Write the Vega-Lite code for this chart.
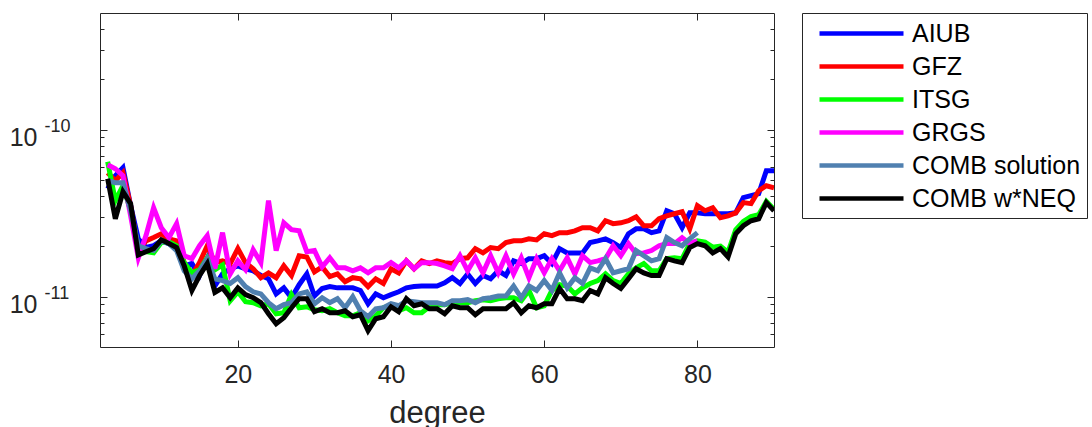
{
  "$schema": "https://vega.github.io/schema/vega-lite/v6.json",
  "width": 674,
  "height": 334,
  "autosize": {"type": "none"},
  "padding": {"left": 100, "top": 13, "right": 318, "bottom": 80},
  "background": "white",
  "config": {
    "view": {"stroke": "#262626", "strokeWidth": 1},
    "font": "Liberation Sans",
    "axis": {"domain": false, "grid": false, "labelColor": "#262626", "tickColor": "#262626", "titleColor": "#262626", "labelFont": "Liberation Sans", "titleFont": "Liberation Sans", "tickWidth": 1}
  },
  "data": {"values": [
    {"d":3,"AIUB":4.43e-11,"GFZ":5.53e-11,"ITSG":6.43e-11,"GRGS":6.17e-11,"COMB solution":4.95e-11,"COMB w*NEQ":5.09e-11},
    {"d":4,"AIUB":5.30e-11,"GFZ":4.95e-11,"ITSG":3.76e-11,"GRGS":5.84e-11,"COMB solution":4.82e-11,"COMB w*NEQ":2.93e-11},
    {"d":5,"AIUB":5.92e-11,"GFZ":5.53e-11,"ITSG":4.62e-11,"GRGS":5.30e-11,"COMB solution":4.82e-11,"COMB w*NEQ":4.25e-11},
    {"d":6,"AIUB":3.51e-11,"GFZ":3.51e-11,"ITSG":3.27e-11,"GRGS":3.05e-11,"COMB solution":3.27e-11,"COMB w*NEQ":3.61e-11},
    {"d":7,"AIUB":2.22e-11,"GFZ":1.89e-11,"ITSG":1.97e-11,"GRGS":1.71e-11,"COMB solution":2.02e-11,"COMB w*NEQ":1.78e-11},
    {"d":8,"AIUB":1.97e-11,"GFZ":2.16e-11,"ITSG":1.86e-11,"GRGS":2.32e-11,"COMB solution":1.94e-11,"COMB w*NEQ":1.86e-11},
    {"d":9,"AIUB":2.02e-11,"GFZ":2.26e-11,"ITSG":1.83e-11,"GRGS":3.41e-11,"COMB solution":1.89e-11,"COMB w*NEQ":1.94e-11},
    {"d":10,"AIUB":2.16e-11,"GFZ":2.38e-11,"ITSG":2.11e-11,"GRGS":2.59e-11,"COMB solution":2.16e-11,"COMB w*NEQ":2.19e-11},
    {"d":11,"AIUB":2.08e-11,"GFZ":2.22e-11,"ITSG":2.13e-11,"GRGS":2.26e-11,"COMB solution":2.08e-11,"COMB w*NEQ":2.08e-11},
    {"d":12,"AIUB":1.94e-11,"GFZ":2.16e-11,"ITSG":2.02e-11,"GRGS":2.74e-11,"COMB solution":1.89e-11,"COMB w*NEQ":1.97e-11},
    {"d":13,"AIUB":1.53e-11,"GFZ":1.60e-11,"ITSG":1.60e-11,"GRGS":1.76e-11,"COMB solution":1.43e-11,"COMB w*NEQ":1.53e-11},
    {"d":14,"AIUB":1.58e-11,"GFZ":1.34e-11,"ITSG":1.39e-11,"GRGS":1.69e-11,"COMB solution":1.28e-11,"COMB w*NEQ":1.09e-11},
    {"d":15,"AIUB":1.34e-11,"GFZ":1.60e-11,"ITSG":1.45e-11,"GRGS":2.02e-11,"COMB solution":1.43e-11,"COMB w*NEQ":1.34e-11},
    {"d":16,"AIUB":1.69e-11,"GFZ":2.02e-11,"ITSG":1.71e-11,"GRGS":2.32e-11,"COMB solution":1.69e-11,"COMB w*NEQ":1.58e-11},
    {"d":17,"AIUB":1.16e-11,"GFZ":1.60e-11,"ITSG":1.45e-11,"GRGS":1.47e-11,"COMB solution":1.28e-11,"COMB w*NEQ":1.06e-11},
    {"d":18,"AIUB":1.37e-11,"GFZ":1.64e-11,"ITSG":1.55e-11,"GRGS":2.42e-11,"COMB solution":1.25e-11,"COMB w*NEQ":1.13e-11},
    {"d":19,"AIUB":1.47e-11,"GFZ":1.58e-11,"ITSG":0.946e-11,"GRGS":1.37e-11,"COMB solution":1.20e-11,"COMB w*NEQ":0.986e-11},
    {"d":20,"AIUB":1.53e-11,"GFZ":1.94e-11,"ITSG":1.07e-11,"GRGS":1.64e-11,"COMB solution":1.30e-11,"COMB w*NEQ":1.13e-11},
    {"d":21,"AIUB":1.47e-11,"GFZ":1.60e-11,"ITSG":0.933e-11,"GRGS":1.45e-11,"COMB solution":1.15e-11,"COMB w*NEQ":1.03e-11},
    {"d":22,"AIUB":1.43e-11,"GFZ":1.47e-11,"ITSG":0.921e-11,"GRGS":1.91e-11,"COMB solution":1.07e-11,"COMB w*NEQ":0.986e-11},
    {"d":23,"AIUB":1.34e-11,"GFZ":1.30e-11,"ITSG":0.883e-11,"GRGS":1.60e-11,"COMB solution":1.04e-11,"COMB w*NEQ":0.921e-11},
    {"d":24,"AIUB":1.28e-11,"GFZ":1.39e-11,"ITSG":0.908e-11,"GRGS":3.76e-11,"COMB solution":0.921e-11,"COMB w*NEQ":0.791e-11},
    {"d":25,"AIUB":1.04e-11,"GFZ":1.30e-11,"ITSG":0.791e-11,"GRGS":1.89e-11,"COMB solution":0.847e-11,"COMB w*NEQ":0.689e-11},
    {"d":26,"AIUB":1.13e-11,"GFZ":1.53e-11,"ITSG":0.802e-11,"GRGS":2.77e-11,"COMB solution":0.896e-11,"COMB w*NEQ":0.748e-11},
    {"d":27,"AIUB":0.986e-11,"GFZ":1.34e-11,"ITSG":1.03e-11,"GRGS":2.52e-11,"COMB solution":0.921e-11,"COMB w*NEQ":0.859e-11},
    {"d":28,"AIUB":1.18e-11,"GFZ":1.76e-11,"ITSG":0.859e-11,"GRGS":2.48e-11,"COMB solution":1.04e-11,"COMB w*NEQ":0.973e-11},
    {"d":29,"AIUB":1.37e-11,"GFZ":1.73e-11,"ITSG":0.871e-11,"GRGS":1.86e-11,"COMB solution":1.07e-11,"COMB w*NEQ":0.973e-11},
    {"d":30,"AIUB":1.01e-11,"GFZ":1.41e-11,"ITSG":0.835e-11,"GRGS":1.89e-11,"COMB solution":0.908e-11,"COMB w*NEQ":0.813e-11},
    {"d":31,"AIUB":1.12e-11,"GFZ":1.51e-11,"ITSG":0.824e-11,"GRGS":1.51e-11,"COMB solution":0.986e-11,"COMB w*NEQ":0.847e-11},
    {"d":32,"AIUB":1.15e-11,"GFZ":1.32e-11,"ITSG":0.847e-11,"GRGS":1.71e-11,"COMB solution":0.921e-11,"COMB w*NEQ":0.802e-11},
    {"d":33,"AIUB":1.13e-11,"GFZ":1.37e-11,"ITSG":0.802e-11,"GRGS":1.49e-11,"COMB solution":0.973e-11,"COMB w*NEQ":0.802e-11},
    {"d":34,"AIUB":1.13e-11,"GFZ":1.23e-11,"ITSG":0.769e-11,"GRGS":1.49e-11,"COMB solution":0.859e-11,"COMB w*NEQ":0.824e-11},
    {"d":35,"AIUB":1.13e-11,"GFZ":1.30e-11,"ITSG":0.769e-11,"GRGS":1.43e-11,"COMB solution":1.00e-11,"COMB w*NEQ":0.759e-11},
    {"d":36,"AIUB":1.09e-11,"GFZ":1.28e-11,"ITSG":0.802e-11,"GRGS":1.49e-11,"COMB solution":0.824e-11,"COMB w*NEQ":0.780e-11},
    {"d":37,"AIUB":0.908e-11,"GFZ":1.15e-11,"ITSG":0.718e-11,"GRGS":1.39e-11,"COMB solution":0.759e-11,"COMB w*NEQ":0.626e-11},
    {"d":38,"AIUB":1.04e-11,"GFZ":1.28e-11,"ITSG":0.769e-11,"GRGS":1.49e-11,"COMB solution":0.847e-11,"COMB w*NEQ":0.738e-11},
    {"d":39,"AIUB":0.986e-11,"GFZ":1.20e-11,"ITSG":0.859e-11,"GRGS":1.49e-11,"COMB solution":0.859e-11,"COMB w*NEQ":0.759e-11},
    {"d":40,"AIUB":1.03e-11,"GFZ":1.47e-11,"ITSG":0.883e-11,"GRGS":1.60e-11,"COMB solution":0.908e-11,"COMB w*NEQ":0.871e-11},
    {"d":41,"AIUB":1.07e-11,"GFZ":1.39e-11,"ITSG":0.824e-11,"GRGS":1.49e-11,"COMB solution":0.883e-11,"COMB w*NEQ":0.813e-11},
    {"d":42,"AIUB":1.13e-11,"GFZ":1.64e-11,"ITSG":0.859e-11,"GRGS":1.64e-11,"COMB solution":0.946e-11,"COMB w*NEQ":0.973e-11},
    {"d":43,"AIUB":1.15e-11,"GFZ":1.47e-11,"ITSG":0.802e-11,"GRGS":1.47e-11,"COMB solution":0.933e-11,"COMB w*NEQ":0.883e-11},
    {"d":44,"AIUB":1.16e-11,"GFZ":1.64e-11,"ITSG":0.802e-11,"GRGS":1.60e-11,"COMB solution":0.921e-11,"COMB w*NEQ":0.908e-11},
    {"d":45,"AIUB":1.16e-11,"GFZ":1.58e-11,"ITSG":0.871e-11,"GRGS":1.60e-11,"COMB solution":0.921e-11,"COMB w*NEQ":0.847e-11},
    {"d":46,"AIUB":1.16e-11,"GFZ":1.64e-11,"ITSG":0.896e-11,"GRGS":1.58e-11,"COMB solution":0.921e-11,"COMB w*NEQ":0.847e-11},
    {"d":47,"AIUB":1.21e-11,"GFZ":1.60e-11,"ITSG":0.896e-11,"GRGS":1.53e-11,"COMB solution":0.896e-11,"COMB w*NEQ":0.791e-11},
    {"d":48,"AIUB":1.30e-11,"GFZ":1.58e-11,"ITSG":0.921e-11,"GRGS":1.47e-11,"COMB solution":0.946e-11,"COMB w*NEQ":0.883e-11},
    {"d":49,"AIUB":1.20e-11,"GFZ":1.69e-11,"ITSG":0.921e-11,"GRGS":1.76e-11,"COMB solution":0.946e-11,"COMB w*NEQ":0.859e-11},
    {"d":50,"AIUB":1.37e-11,"GFZ":1.71e-11,"ITSG":0.921e-11,"GRGS":1.43e-11,"COMB solution":0.96e-11,"COMB w*NEQ":0.859e-11},
    {"d":51,"AIUB":1.20e-11,"GFZ":1.94e-11,"ITSG":0.946e-11,"GRGS":1.71e-11,"COMB solution":0.921e-11,"COMB w*NEQ":0.780e-11},
    {"d":52,"AIUB":1.34e-11,"GFZ":1.83e-11,"ITSG":0.96e-11,"GRGS":1.39e-11,"COMB solution":0.973e-11,"COMB w*NEQ":0.847e-11},
    {"d":53,"AIUB":1.28e-11,"GFZ":1.97e-11,"ITSG":0.946e-11,"GRGS":1.76e-11,"COMB solution":0.986e-11,"COMB w*NEQ":0.847e-11},
    {"d":54,"AIUB":1.43e-11,"GFZ":1.94e-11,"ITSG":0.973e-11,"GRGS":1.39e-11,"COMB solution":1.01e-11,"COMB w*NEQ":0.847e-11},
    {"d":55,"AIUB":1.34e-11,"GFZ":2.11e-11,"ITSG":0.986e-11,"GRGS":1.76e-11,"COMB solution":1.01e-11,"COMB w*NEQ":0.847e-11},
    {"d":56,"AIUB":1.64e-11,"GFZ":2.16e-11,"ITSG":0.986e-11,"GRGS":1.37e-11,"COMB solution":1.16e-11,"COMB w*NEQ":0.921e-11},
    {"d":57,"AIUB":1.58e-11,"GFZ":2.16e-11,"ITSG":0.946e-11,"GRGS":1.71e-11,"COMB solution":0.986e-11,"COMB w*NEQ":0.802e-11},
    {"d":58,"AIUB":1.69e-11,"GFZ":2.22e-11,"ITSG":1.09e-11,"GRGS":1.30e-11,"COMB solution":1.16e-11,"COMB w*NEQ":0.883e-11},
    {"d":59,"AIUB":1.69e-11,"GFZ":2.19e-11,"ITSG":0.859e-11,"GRGS":1.69e-11,"COMB solution":1.09e-11,"COMB w*NEQ":0.859e-11},
    {"d":60,"AIUB":1.76e-11,"GFZ":2.38e-11,"ITSG":0.883e-11,"GRGS":1.39e-11,"COMB solution":1.25e-11,"COMB w*NEQ":0.908e-11},
    {"d":61,"AIUB":1.58e-11,"GFZ":2.32e-11,"ITSG":1.09e-11,"GRGS":1.69e-11,"COMB solution":1.09e-11,"COMB w*NEQ":0.908e-11},
    {"d":62,"AIUB":1.94e-11,"GFZ":2.42e-11,"ITSG":1.18e-11,"GRGS":1.43e-11,"COMB solution":1.39e-11,"COMB w*NEQ":1.12e-11},
    {"d":63,"AIUB":1.83e-11,"GFZ":2.42e-11,"ITSG":1.16e-11,"GRGS":1.71e-11,"COMB solution":1.13e-11,"COMB w*NEQ":0.973e-11},
    {"d":64,"AIUB":1.83e-11,"GFZ":2.48e-11,"ITSG":1.04e-11,"GRGS":1.37e-11,"COMB solution":1.30e-11,"COMB w*NEQ":0.973e-11},
    {"d":65,"AIUB":1.83e-11,"GFZ":2.59e-11,"ITSG":1.13e-11,"GRGS":1.76e-11,"COMB solution":1.20e-11,"COMB w*NEQ":0.946e-11},
    {"d":66,"AIUB":2.11e-11,"GFZ":2.59e-11,"ITSG":1.20e-11,"GRGS":1.60e-11,"COMB solution":1.49e-11,"COMB w*NEQ":1.09e-11},
    {"d":67,"AIUB":2.16e-11,"GFZ":2.48e-11,"ITSG":1.25e-11,"GRGS":1.64e-11,"COMB solution":1.43e-11,"COMB w*NEQ":1.04e-11},
    {"d":68,"AIUB":2.22e-11,"GFZ":2.85e-11,"ITSG":1.37e-11,"GRGS":1.69e-11,"COMB solution":1.69e-11,"COMB w*NEQ":1.30e-11},
    {"d":69,"AIUB":2.11e-11,"GFZ":2.74e-11,"ITSG":1.25e-11,"GRGS":2.02e-11,"COMB solution":1.39e-11,"COMB w*NEQ":1.20e-11},
    {"d":70,"AIUB":1.97e-11,"GFZ":2.77e-11,"ITSG":1.20e-11,"GRGS":1.76e-11,"COMB solution":1.43e-11,"COMB w*NEQ":1.12e-11},
    {"d":71,"AIUB":2.38e-11,"GFZ":2.85e-11,"ITSG":1.37e-11,"GRGS":2.08e-11,"COMB solution":1.47e-11,"COMB w*NEQ":1.28e-11},
    {"d":72,"AIUB":2.55e-11,"GFZ":3.01e-11,"ITSG":1.49e-11,"GRGS":1.81e-11,"COMB solution":1.89e-11,"COMB w*NEQ":1.47e-11},
    {"d":73,"AIUB":2.55e-11,"GFZ":2.66e-11,"ITSG":1.58e-11,"GRGS":1.83e-11,"COMB solution":1.76e-11,"COMB w*NEQ":1.39e-11},
    {"d":74,"AIUB":2.42e-11,"GFZ":2.66e-11,"ITSG":1.43e-11,"GRGS":1.89e-11,"COMB solution":1.64e-11,"COMB w*NEQ":1.34e-11},
    {"d":75,"AIUB":2.48e-11,"GFZ":2.93e-11,"ITSG":1.43e-11,"GRGS":2.02e-11,"COMB solution":1.69e-11,"COMB w*NEQ":1.34e-11},
    {"d":76,"AIUB":3.27e-11,"GFZ":3.05e-11,"ITSG":1.69e-11,"GRGS":2.08e-11,"COMB solution":2.26e-11,"COMB w*NEQ":1.69e-11},
    {"d":77,"AIUB":3.14e-11,"GFZ":3.14e-11,"ITSG":1.71e-11,"GRGS":2.08e-11,"COMB solution":2.11e-11,"COMB w*NEQ":1.64e-11},
    {"d":78,"AIUB":2.59e-11,"GFZ":3.23e-11,"ITSG":1.69e-11,"GRGS":2.26e-11,"COMB solution":2.02e-11,"COMB w*NEQ":1.60e-11},
    {"d":79,"AIUB":3.18e-11,"GFZ":2.55e-11,"ITSG":2.08e-11,"GRGS":2.08e-11,"COMB solution":2.22e-11,"COMB w*NEQ":1.97e-11},
    {"d":80,"AIUB":3.18e-11,"GFZ":3.51e-11,"ITSG":2.16e-11,"GRGS":2.16e-11,"COMB solution":2.42e-11,"COMB w*NEQ":2.08e-11},
    {"d":81,"AIUB":3.14e-11,"GFZ":3.27e-11,"ITSG":2.12e-11,"COMB w*NEQ":2.02e-11},
    {"d":82,"AIUB":3.14e-11,"GFZ":3.41e-11,"ITSG":1.98e-11,"COMB w*NEQ":1.83e-11},
    {"d":83,"AIUB":3.14e-11,"GFZ":2.97e-11,"ITSG":2.01e-11,"COMB w*NEQ":1.94e-11},
    {"d":84,"AIUB":3.14e-11,"GFZ":3.05e-11,"ITSG":1.85e-11,"COMB w*NEQ":1.73e-11},
    {"d":85,"AIUB":3.18e-11,"GFZ":3.18e-11,"ITSG":2.52e-11,"COMB w*NEQ":2.38e-11},
    {"d":86,"AIUB":3.92e-11,"GFZ":3.66e-11,"ITSG":2.82e-11,"COMB w*NEQ":2.66e-11},
    {"d":87,"AIUB":4.03e-11,"GFZ":3.61e-11,"ITSG":3.02e-11,"COMB w*NEQ":2.85e-11},
    {"d":88,"AIUB":4.14e-11,"GFZ":4.31e-11,"ITSG":3.10e-11,"COMB w*NEQ":2.93e-11},
    {"d":89,"AIUB":5.68e-11,"GFZ":4.62e-11,"ITSG":3.72e-11,"COMB w*NEQ":3.66e-11},
    {"d":90,"AIUB":5.68e-11,"GFZ":4.49e-11,"ITSG":3.33e-11,"COMB w*NEQ":3.27e-11}
  ]},
  "transform": [
    {"fold": ["AIUB", "GFZ", "ITSG", "GRGS", "COMB solution", "COMB w*NEQ"], "as": ["series", "v"]}
  ],
  "layer": [
    {
      "mark": {"type": "line", "strokeWidth": 5, "clip": true},
      "encoding": {
        "x": {"field": "d", "type": "quantitative",
          "scale": {"domain": [2, 90], "nice": false, "zero": false},
          "axis": {"orient": "bottom", "values": [20, 40, 60, 80], "tickSize": -7, "labelFontSize": 25, "labelPadding": 22, "title": "degree", "titleFontSize": 31, "titleFontWeight": "normal", "titlePadding": 11}},
        "y": {"field": "v", "type": "quantitative",
          "scale": {"type": "log", "domain": [5e-12, 5e-10], "nice": false},
          "axis": {"orient": "left", "values": [1e-11, 1e-10], "tickSize": -7, "labelExpr": "'10'", "labelFontSize": 25, "labelPadding": 70, "labelOffset": 8, "title": null}},
        "color": {"field": "series", "type": "nominal",
          "scale": {"domain": ["AIUB", "GFZ", "ITSG", "GRGS", "COMB solution", "COMB w*NEQ"], "range": ["#0000FF", "#FF0000", "#00FF00", "#FF00FF", "#5080B0", "#000000"]},
          "legend": {"title": null, "orient": "right", "offset": 27, "symbolType": "M-3.5,0H3.5", "symbolSize": 576, "symbolStrokeWidth": 4.5, "labelFontSize": 25, "labelFont": "Liberation Sans", "labelColor": "#000000", "rowPadding": 5, "padding": 6, "strokeColor": "#262626", "labelOffset": 36, "symbolOffset": 39, "labelLimit": 400}},
        "order": {"field": "d", "type": "quantitative"}
      }
    },
    {
      "mark": {"type": "point", "opacity": 0},
      "encoding": {
        "x": {"field": "d", "type": "quantitative", "axis": {"orient": "top", "values": [20, 40, 60, 80], "tickSize": -7, "labels": false, "title": null}},
        "y": {"field": "v", "type": "quantitative", "scale": {"type": "log"}, "axis": {"orient": "left", "values": [6e-12, 7e-12, 8e-12, 9e-12, 2e-11, 3e-11, 4e-11, 5e-11, 6e-11, 7e-11, 8e-11, 9e-11, 2e-10, 3e-10, 4e-10], "tickSize": -4, "labels": false, "title": null}}
      }
    },
    {
      "mark": {"type": "point", "opacity": 0},
      "encoding": {
        "x": {"field": "d", "type": "quantitative", "axis": null},
        "y": {"field": "v", "type": "quantitative", "scale": {"type": "log"}, "axis": {"orient": "right", "values": [1e-11, 1e-10], "tickSize": -7, "labels": false, "title": null}}
      }
    },
    {
      "mark": {"type": "point", "opacity": 0},
      "encoding": {
        "x": {"field": "d", "type": "quantitative", "axis": null},
        "y": {"field": "v", "type": "quantitative", "scale": {"type": "log"}, "axis": {"orient": "right", "values": [6e-12, 7e-12, 8e-12, 9e-12, 2e-11, 3e-11, 4e-11, 5e-11, 6e-11, 7e-11, 8e-11, 9e-11, 2e-10, 3e-10, 4e-10], "tickSize": -4, "labels": false, "title": null}}
      }
    },
    {
      "mark": {"type": "point", "opacity": 0},
      "encoding": {
        "x": {"field": "d", "type": "quantitative", "axis": null},
        "y": {"field": "v", "type": "quantitative", "scale": {"type": "log"}, "axis": {"orient": "left", "values": [1e-11, 1e-10], "ticks": false, "labelExpr": "datum.value > 5e-11 ? '-10' : '-11'", "labelFontSize": 18, "labelAlign": "left", "labelPadding": 56, "labelOffset": -3, "title": null}}
      }
    }
  ],
  "resolve": {"axis": {"x": "independent", "y": "independent"}}
}
